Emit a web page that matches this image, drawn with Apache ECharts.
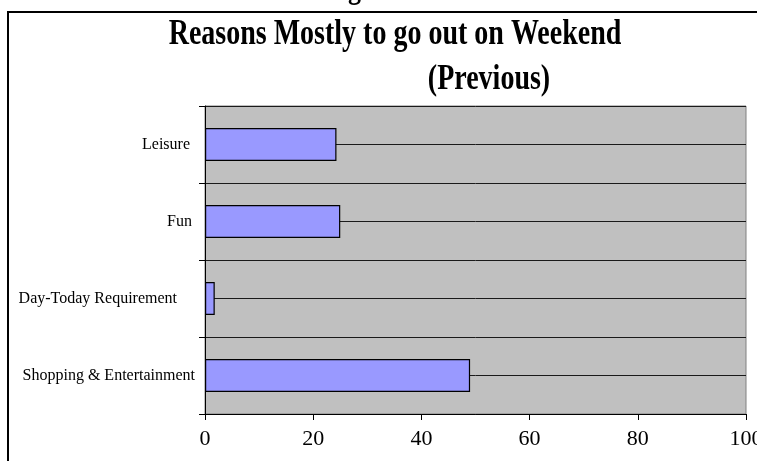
<!DOCTYPE html>
<html>
<head>
<meta charset="utf-8">
<script src="https://cdn.jsdelivr.net/npm/echarts@6/dist/echarts.min.js"></script>
<style>
  html, body { margin: 0; padding: 0; background: #ffffff; }
  #chart { width: 757px; height: 461px; }
</style>
</head>
<body>
<div id="chart"></div>
<script>
// Weekend outing reasons, share of respondents (%), bottom to top
const categories = ['Shopping & Entertainment', 'Day-Today Requirement', 'Fun', 'Leisure'];
const shares = [49, 1.8, 25, 24.3];
const valueTicks = [0, 20, 40, 60, 80, 100];

const titleLine1 = 'Reasons Mostly to go out on Weekend';
const titleLine2 = '(Previous)';

// extra right padding per category label (labels sit at uneven offsets)
const labelPad = { 'Shopping & Entertainment': 0, 'Day-Today Requirement': 18, 'Fun': 3, 'Leisure': 5 };
const richKeys = {};
categories.forEach((c, i) => {
  richKeys['c' + i] = {
    fontFamily: 'Liberation Serif', fontSize: 16, color: '#000',
    padding: [0, labelPad[c], 0, 0]
  };
});

const chart = echarts.init(document.getElementById('chart'), null, { renderer: 'canvas' });

chart.setOption({
  animation: false,
  backgroundColor: '#ffffff',
  graphic: [
    // outer frame
    { type: 'rect', shape: { x: 8, y: 12, width: 800, height: 500 },
      style: { fill: 'none', stroke: '#000', lineWidth: 2 }, z: 10 },
    // caption above the frame (mostly outside the page)
    { type: 'text', x: 325, y: 6, scaleY: 1.25, z: 10,
      style: { text: 'Figure', fontFamily: 'Liberation Serif', fontWeight: 'bold', fontSize: 26,
               fill: '#000', align: 'left', verticalAlign: 'bottom' } },
    { type: 'text', x: 395, y: 35, scaleY: 1.28, z: 10,
      style: { text: titleLine1, fontFamily: 'Liberation Serif', fontWeight: 'bold', fontSize: 28,
               fill: '#000', align: 'center', verticalAlign: 'middle' } },
    { type: 'text', x: 489, y: 80, scaleY: 1.28, z: 10,
      style: { text: titleLine2, fontFamily: 'Liberation Serif', fontWeight: 'bold', fontSize: 28,
               fill: '#000', align: 'center', verticalAlign: 'middle' } }
  ],
  grid: {
    left: 205, right: 11, top: 106, bottom: 47,
    outerBoundsMode: 'none',
    show: true, backgroundColor: '#c0c0c0', borderColor: '#808080', borderWidth: 1
  },
  xAxis: {
    type: 'value', min: 0, max: 100, interval: 20,
    axisLine: { show: true, lineStyle: { color: '#000', width: 1 } },
    axisTick: { show: true, length: 6, lineStyle: { color: '#000' } },
    splitLine: { show: false },
    axisLabel: {
      margin: 14, fontFamily: 'Liberation Serif', fontSize: 22, color: '#000',
      formatter: v => valueTicks.includes(v) ? String(v) : ''
    }
  },
  yAxis: [
    {
      type: 'category', data: categories,
      axisLine: { show: true, lineStyle: { color: '#000', width: 1 } },
      axisTick: { show: true, length: 6, inside: false, lineStyle: { color: '#000' } },
      splitLine: { show: false },
      axisLabel: {
        margin: 10,
        formatter: v => '{c' + categories.indexOf(v) + '|' + v + '}',
        rich: richKeys
      }
    },
    {
      // half-category gridlines across the plot
      type: 'value', min: 0, max: 8, interval: 1, position: 'right',
      axisLine: { show: false }, axisTick: { show: false }, axisLabel: { show: false },
      splitLine: { show: true, lineStyle: { color: '#1a1a1a', width: 1 } }
    }
  ],
  series: [{
    type: 'bar',
    yAxisIndex: 0,
    data: shares,
    barWidth: 33,
    itemStyle: { color: '#9999ff', borderColor: '#000', borderWidth: 1.2 },
    z: 3
  }]
});
</script>
</body>
</html>
